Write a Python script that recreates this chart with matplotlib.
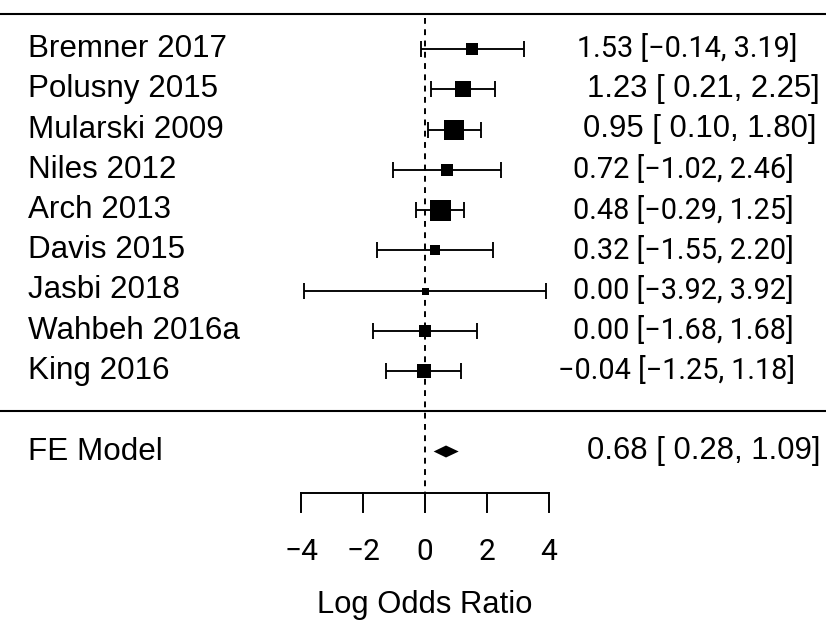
import matplotlib
matplotlib.use("Agg")
import matplotlib.pyplot as plt
import numpy as np

# ---- data ----
studies = ["Bremner 2017", "Polusny 2015", "Mularski 2009", "Niles 2012", "Arch 2013",
           "Davis 2015", "Jasbi 2018", "Wahbeh 2016a", "King 2016"]
est = [1.53, 1.23, 0.95, 0.72, 0.48, 0.32, 0.00, 0.00, -0.04]
ci_lb = [-0.14, 0.21, 0.10, -1.02, -0.29, -1.55, -3.92, -1.68, -1.25]
ci_ub = [3.19, 2.25, 1.80, 2.46, 1.25, 2.20, 3.92, 1.68, 1.18]
fe_label = "FE Model"
fe_est, fe_lb, fe_ub = 0.68, 0.28, 1.09
xticks = [-4, -2, 0, 2, 4]
xlabel = "Log Odds Ratio"

# ---- layout helpers ----
W, H = 826, 622
px_per_unit = 30.9
x0_px = 425.0
row_px = 40.25
row1_px = 371.0

def px2x(px):
    return (px - x0_px) / px_per_unit

def py2row(py):
    return 1 + (row1_px - py) / row_px

fig = plt.figure(figsize=(W / 100, H / 100), dpi=100)
ax = fig.add_axes([0, 0, 1, 1])
ax.set_xlim(px2x(0), px2x(W))
ax.set_ylim(py2row(H), py2row(0))
ax.axis("off")

k = len(studies)
rows = np.arange(k, 0, -1)

def fmt(v, pad=False):
    s = f"{v:.2f}"
    if v < 0 or s.startswith("-"):
        s = "\u2212" + s.lstrip("-")
    elif pad:
        s = " " + s
    return s

# weights for square sizes (metafor style: 1/se, rescaled to [0.5, 1.5])
se = (np.array(ci_ub) - np.array(ci_lb)) / (2 * 1.96)
wi = 1 / se
ps = (wi - wi.min()) / (wi.max() - wi.min())
ps = ps * 1.0 + 0.5
sq_px = ps * 14.0

lw = 1.35
# horizontal separator lines
ax.axhline(py2row(14), color="black", lw=1.5)
ax.axhline(0, color="black", lw=1.5)

# reference line
ax.plot([0, 0], [py2row(18), py2row(492.7)], color="black", lw=1.4,
        dashes=(3.0, 2.8), solid_capstyle="butt")

# study rows
sans = "Liberation Sans"
human = "Roboto"
txt_start_px = [576.7, 586.7, 582.7, 573, 573, 573, 573, 573, 558]
for i in range(k):
    y = rows[i]
    ax.errorbar([est[i]], [y], xerr=[[est[i] - ci_lb[i]], [ci_ub[i] - est[i]]],
                fmt="none", ecolor="black", elinewidth=lw, capsize=6.0, capthick=lw)
    ax.plot([est[i]], [y], marker="s", color="black", ms=sq_px[i] * 0.72, mew=0)
    ax.text(px2x(28), y, studies[i], ha="left", va="center", fontsize=22.6, family=sans)
    s = f"{fmt(est[i])} [{fmt(ci_lb[i], pad=True)}, {fmt(ci_ub[i])}]"
    fam = human if "\u2212" in s else sans
    fs = 20.8 if fam == human else 22.3
    ax.text(px2x(txt_start_px[i]), y, s, ha="left", va="center", fontsize=fs, family=fam)

# FE model
yfe = -1
h = 6.0 / row_px
ax.fill([fe_lb, fe_est, fe_ub, fe_est], [yfe, yfe + h, yfe, yfe - h], color="black", lw=0)
ax.text(px2x(28), yfe, fe_label, ha="left", va="center", fontsize=22.6, family=sans)
s = f"{fmt(fe_est)} [{fmt(fe_lb, pad=True)}, {fmt(fe_ub)}]"
ax.text(px2x(587), yfe, s, ha="left", va="center", fontsize=22.3, family=sans)

# x axis
ya = py2row(492.7)
yt = py2row(511.7)
ax.plot([xticks[0], xticks[-1]], [ya, ya], color="black", lw=1.4)
for t in xticks:
    ax.plot([t, t], [ya, yt], color="black", lw=1.4)
    ax.text(t, py2row(552), fmt(t).replace(".00", ""), ha="center", va="center",
            fontsize=21.5, family=human)
ax.text(0, py2row(605), xlabel, ha="center", va="center", fontsize=22.3, family=sans)

fig.savefig("out.png", dpi=100)
